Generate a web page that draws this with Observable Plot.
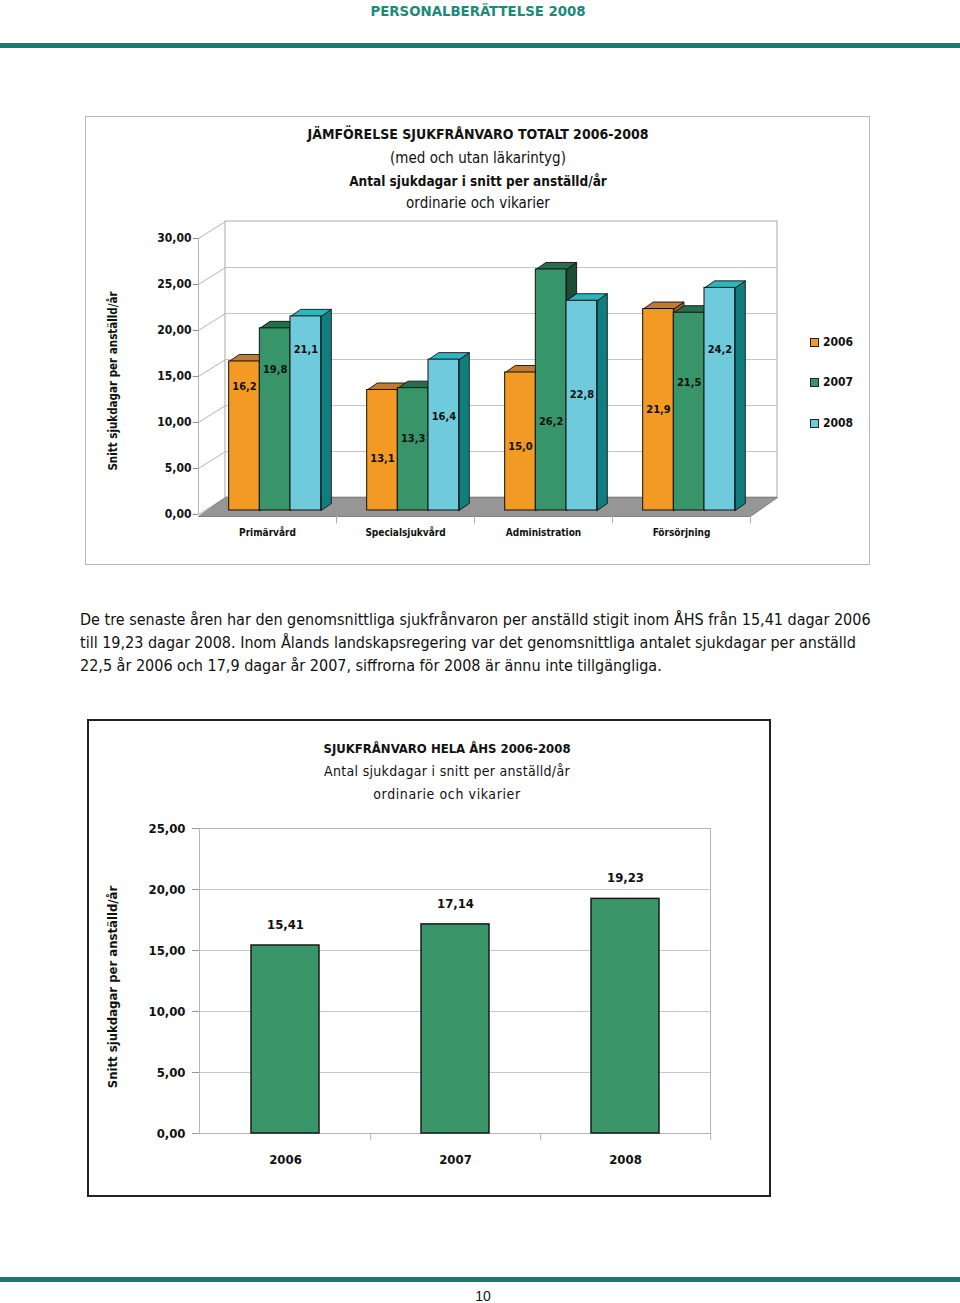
<!DOCTYPE html>
<html><head><meta charset="utf-8">
<script src="https://cdn.jsdelivr.net/npm/d3@7"></script>
<script src="https://cdn.jsdelivr.net/npm/@observablehq/plot@0.6"></script>
<style>
body{margin:0;background:#fff;}
#page{position:relative;width:960px;height:1303px;overflow:hidden;font-family:"DejaVu Sans Condensed","DejaVu Sans",sans-serif;color:#111;background:#fff;}
.abs{position:absolute;white-space:nowrap;line-height:1.1;}
.c{transform:translate(-50%,-50%);}
.l{transform:translate(0,-50%);}
.rot{transform:translate(-50%,-50%) rotate(-90deg);}
.b{font-weight:bold;}
</style></head><body><div id="page">
<div class="abs c b" style="left:478px;top:11px;font-size:14.8px;color:#1b8a7b;">PERSONALBERÄTTELSE 2008</div>
<div class="abs" style="left:0;top:43px;width:960px;height:5px;background:#137c6d;"></div>

<div class="abs" style="left:85px;top:116px;width:785px;height:449px;box-sizing:border-box;border:1px solid #b8b8b8;"></div>
<div class="abs c b" style="left:478px;top:135px;font-size:14px;">JÄMFÖRELSE SJUKFRÅNVARO TOTALT 2006-2008</div>
<div class="abs c" style="left:478px;top:158px;font-size:15px;">(med och utan läkarintyg)</div>
<div class="abs c b" style="left:478px;top:181px;font-size:13.5px;">Antal sjukdagar i snitt per anställd/år</div>
<div class="abs c" style="left:478px;top:203px;font-size:15px;">ordinarie och vikarier</div>
<div class="abs rot b" style="left:113px;top:381px;font-size:11.5px;">Snitt sjukdagar per anställd/år</div>
<div id="legend"></div>
<div id="chart1" class="abs" style="left:85px;top:210px;"></div>

<div class="abs l" style="left:80px;top:620px;font-size:16px;">De tre senaste åren har den genomsnittliga sjukfrånvaron per anställd stigit inom ÅHS från 15,41 dagar 2006</div>
<div class="abs l" style="left:80px;top:643px;font-size:16px;">till 19,23 dagar 2008. Inom Ålands landskapsregering var det genomsnittliga antalet sjukdagar per anställd</div>
<div class="abs l" style="left:80px;top:666px;font-size:16px;">22,5 år 2006 och 17,9 dagar år 2007, siffrorna för 2008 är ännu inte tillgängliga.</div>

<div class="abs" style="left:87px;top:719px;width:684px;height:478px;box-sizing:border-box;border:2px solid #222;"></div>
<div class="abs c b" style="left:447px;top:749px;font-size:13px;">SJUKFRÅNVARO HELA ÅHS 2006-2008</div>
<div class="abs c" style="left:447px;top:772px;font-size:14px;letter-spacing:0.3px;">Antal sjukdagar i snitt per anställd/år</div>
<div class="abs c" style="left:447px;top:795px;font-size:14px;letter-spacing:0.6px;">ordinarie och vikarier</div>
<div class="abs rot b" style="left:113px;top:987px;font-size:13px;">Snitt sjukdagar per anställd/år</div>
<div id="chart2" class="abs" style="left:87px;top:810px;"></div>

<div class="abs" style="left:0;top:1277px;width:960px;height:5px;background:#137c6d;"></div>
<div class="abs c" style="left:483px;top:1296px;font-size:14px;line-height:14px;font-family:'Liberation Sans',Arial,sans-serif;">10</div>
</div>
<script>
// ---------- data ----------
const categories = ["Primärvård", "Specialsjukvård", "Administration", "Försörjning"];
const seriesYears = ["2006", "2007", "2008"];
const values2006 = [16.2, 13.1, 15.0, 21.9];
const values2007 = [19.8, 13.3, 26.2, 21.5];
const values2008 = [21.1, 16.4, 22.8, 24.2];
const topTicks = [0, 5, 10, 15, 20, 25, 30];

const totalYears = ["2006", "2007", "2008"];
const totalValues = [15.41, 17.14, 19.23];
const totalTicks = [0, 5, 10, 15, 20, 25];

// ---------- layout / style ----------
// label heights (in value units) as placed by the original 3D chart
const labelAt = [[13.5, 5.65, 7.0, 11.0], [15.3, 7.8, 9.7, 13.9], [17.5, 10.2, 12.6, 17.5]];
const frontColors = ["#f39a24", "#38956a", "#6fcbdc"];
const topColors = ["#c07a32", "#276e4c", "#2bb6bf"];
const sideColors = ["#9c5f1e", "#1c4d36", "#0f7e7f"];
const SLOT = 4.5, OFF = 1, BDX = 0.33, BDY = 0.76, WDX = 0.88, WDY = 1.41, LAB = -0.43, FLOOR = -0.65;
const fmt1 = v => v.toFixed(1).replace(".", ",");
const fmt2 = v => v.toFixed(2).replace(".", ",");
const FONT = '"DejaVu Sans Condensed","DejaVu Sans",sans-serif';

// ---------- chart 1 (pseudo 3D clustered bars) ----------
const seriesValues = [values2006, values2007, values2008];
const bars = [];
seriesValues.forEach((vals, j) => vals.forEach((v, g) => {
  const x1 = g * SLOT + OFF + j;
  bars.push({g, j, v, x1, x2: x1 + 1, id: g + "-" + j});
}));
const tops = [], sides = [];
for (const b of bars) {
  [[b.x1, b.v], [b.x2, b.v], [b.x2 + BDX, b.v + BDY], [b.x1 + BDX, b.v + BDY], [b.x1, b.v]]
    .forEach(([x, y]) => tops.push({id: b.id, j: b.j, x, y}));
  [[b.x2, 0], [b.x2, b.v], [b.x2 + BDX, b.v + BDY], [b.x2 + BDX, BDY], [b.x2, 0]]
    .forEach(([x, y]) => sides.push({id: b.id, j: b.j, x, y}));
}
const xMax = categories.length * SLOT;
const floorPts = [{x: 0, y: FLOOR}, {x: xMax, y: FLOOR}, {x: xMax + WDX, y: WDY}, {x: WDX, y: WDY}, {x: 0, y: FLOOR}];

const marks1 = [
  Plot.rect([0], {x1: WDX, x2: xMax + WDX, y1: WDY, y2: 30 + WDY, fill: "white", stroke: "#a8a8a8"}),
  Plot.ruleY(topTicks.filter(t => t > 0 && t < 30), {y: d => d + WDY, x1: WDX, x2: xMax + WDX, stroke: "#c4c4c4"}),
  Plot.link(topTicks, {x1: 0, y1: d => d + LAB, x2: WDX, y2: d => d + WDY, stroke: "#b4b4b4"}),
  Plot.ruleX([0], {y1: LAB, y2: 30 + LAB, stroke: "#b4b4b4"}),
  Plot.ruleY(topTicks, {y: d => d + LAB, x1: -0.17, x2: 0, stroke: "#888"}),
  Plot.line(floorPts, {x: "x", y: "y", fill: "#969696", stroke: "#808080", strokeWidth: 1}),
  Plot.ruleX(categories.map((c, i) => (i + 1) * SLOT), {y1: FLOOR, y2: FLOOR - 0.8, stroke: "#aaa"}),
];
for (let j = 0; j < 3; j++) marks1.push(Plot.line(sides.filter(d => d.j === j), {x: "x", y: "y", z: "id", fill: sideColors[j], stroke: "#111", strokeWidth: 0.9, strokeLinejoin: "round"}));
for (let j = 0; j < 3; j++) marks1.push(Plot.line(tops.filter(d => d.j === j), {x: "x", y: "y", z: "id", fill: topColors[j], stroke: "#111", strokeWidth: 0.9, strokeLinejoin: "round"}));
for (let j = 0; j < 3; j++) marks1.push(Plot.rect(bars.filter(d => d.j === j), {x1: "x1", x2: "x2", y1: 0, y2: "v", fill: frontColors[j], stroke: "#111", strokeWidth: 1}));
marks1.push(
  Plot.text(bars, {x: d => (d.x1 + d.x2) / 2, y: d => labelAt[d.j][d.g], text: d => fmt1(d.v), fontSize: 11, fontWeight: "bold", fill: "#111"}),
  Plot.text(topTicks, {x: 0, y: d => d + LAB, dx: -7, text: fmt2, textAnchor: "end", fontSize: 12, fontWeight: "bold", fill: "#111"}),
  Plot.text(categories, {x: (d, i) => i * SLOT + SLOT / 2, y: FLOOR, dy: 16, text: d => d, fontSize: 10, fontWeight: "bold", fill: "#111"})
);
const chart1 = Plot.plot({
  width: 785, height: 340, margin: 0,
  x: {domain: [0, xMax], range: [113, 665], axis: null},
  y: {domain: [0, 30], range: [300, 24], axis: null},
  style: {fontFamily: FONT, background: "transparent", color: "#111", overflow: "visible"},
  marks: marks1
});
document.getElementById("chart1").appendChild(chart1);

// legend
const legend = document.getElementById("legend");
seriesYears.forEach((y, j) => {
  const top = [343, 383, 424][j];
  const sq = document.createElement("div");
  sq.className = "abs";
  sq.style.cssText = `left:810px;top:${top - 5}px;width:9px;height:9px;box-sizing:border-box;border:1px solid #222;background:${frontColors[j]};`;
  const tx = document.createElement("div");
  tx.className = "abs l b";
  tx.style.cssText = `left:823px;top:${top}px;font-size:12px;`;
  tx.textContent = y;
  legend.appendChild(sq); legend.appendChild(tx);
});

// ---------- chart 2 ----------
const totals = totalYears.map((year, i) => ({year, value: totalValues[i]}));
const step2 = 511 / totalYears.length;
const chart2 = Plot.plot({
  width: 684, height: 370, marginLeft: 112, marginRight: 61, marginTop: 18, marginBottom: 47,
  x: {domain: totalYears, paddingInner: 0.6, paddingOuter: 0.3, axis: null},
  y: {domain: [0, 25], axis: null},
  style: {fontFamily: FONT, background: "transparent", color: "#111", overflow: "visible"},
  marks: [
    Plot.ruleY(totalTicks.filter(t => t > 0 && t < 25), {stroke: "#c8c8c8"}),
    Plot.frame({stroke: "#b5b5b5"}),
    Plot.ruleY(totalTicks, {insetRight: 504, dx: -7, stroke: "#999"}),
    Plot.ruleX(totals, {x: "year", dx: step2 / 2, y1: 0, y2: -0.6, stroke: "#b5b5b5"}),
    Plot.barY(totals, {x: "year", y: "value", fill: "#3a9668", stroke: "#1a1a1a", strokeWidth: 1.5}),
    Plot.text(totals, {x: "year", y: "value", dy: -21, text: d => fmt2(d.value), fontSize: 13, fontWeight: "bold", fill: "#111"}),
    Plot.text(totals, {x: "year", y: 0, dy: 26, text: "year", fontSize: 13, fontWeight: "bold", fill: "#111"}),
    Plot.text(totalTicks, {y: d => d, frameAnchor: "left", dx: -14, text: fmt2, textAnchor: "end", fontSize: 13, fontWeight: "bold", fill: "#111"})
  ]
});
document.getElementById("chart2").appendChild(chart2);
</script>
</body></html>
